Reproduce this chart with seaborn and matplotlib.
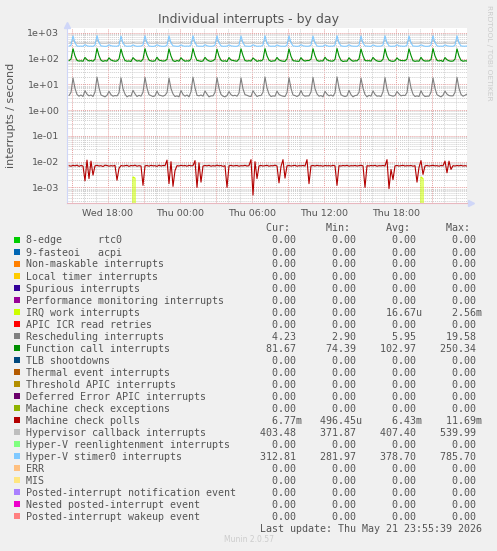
import numpy as np
import pandas as pd
import matplotlib
matplotlib.use("Agg")
import matplotlib.pyplot as plt
import matplotlib.dates as mdates
from matplotlib.patches import Rectangle
from matplotlib.ticker import LogLocator, FuncFormatter
import seaborn as sns

# 10 minute samples, first one at Wed 14:45
start = "2026-05-20 14:45"

stimer0 = [
    308, 335, 770, 410, 312, 306, 310, 304, 352, 318, 305, 309,
    303, 340, 785, 420, 315, 308, 302, 307, 348, 320, 310, 306,
    305, 330, 760, 400, 318, 304, 309, 306, 345, 316, 303, 308,
    310, 338, 775, 415, 312, 305, 302, 310, 350, 321, 307, 304,
    306, 333, 768, 405, 316, 309, 303, 306, 347, 314, 305, 311,
    304, 342, 780, 418, 313, 306, 308, 302, 351, 319, 306, 305,
    309, 336, 772, 409, 317, 303, 306, 309, 346, 315, 308, 303,
    305, 331, 765, 412, 311, 307, 304, 306, 349, 322, 304, 309,
    307, 339, 778, 403, 315, 305, 310, 303, 344, 317, 306, 307,
    303, 334, 770, 416, 314, 308, 302, 308, 353, 318, 309, 305,
    308, 337, 762, 407, 312, 304, 307, 305, 347, 320, 303, 310,
    306, 341, 783, 411, 318, 306, 303, 309, 350, 316, 307, 304,
    304, 332, 769, 404, 313, 309, 305, 302, 345, 319, 305, 308,
    309, 338, 776, 414, 316, 303, 308, 307, 352, 315, 310, 306,
    305, 335, 767, 408, 311, 307, 304, 310, 348, 321, 304, 303,
    307, 340, 780, 413, 317, 305, 309, 304, 346, 318, 308, 307,
    304, 336, 771, 410, 314, 308, 306, 312.81,
]

hv_callback = [
    405, 420, 525, 432, 407, 402, 406, 401, 426, 409, 403, 406,
    402, 418, 540, 428, 405, 404, 401, 407, 424, 408, 405, 403,
    406, 422, 518, 435, 403, 401, 405, 402, 428, 410, 402, 407,
    401, 419, 530, 430, 408, 405, 402, 406, 423, 407, 404, 402,
    404, 421, 522, 433, 406, 400, 407, 403, 427, 411, 401, 405,
    403, 417, 536, 429, 404, 406, 401, 405, 425, 408, 406, 403,
    407, 423, 520, 434, 402, 403, 405, 400, 429, 409, 403, 406,
    400, 418, 528, 431, 409, 401, 404, 407, 422, 410, 402, 404,
    405, 420, 533, 427, 405, 404, 400, 403, 426, 407, 405, 401,
    402, 424, 517, 436, 403, 402, 406, 405, 428, 411, 401, 407,
    406, 419, 531, 430, 407, 405, 402, 401, 424, 408, 404, 403,
    401, 421, 538, 432, 404, 400, 405, 406, 427, 409, 402, 405,
    404, 417, 523, 428, 408, 403, 401, 402, 425, 410, 406, 402,
    403, 422, 527, 435, 405, 406, 404, 405, 429, 407, 403, 406,
    407, 420, 534, 429, 402, 401, 406, 403, 423, 411, 400, 404,
    400, 418, 521, 433, 406, 404, 402, 407, 426, 408, 405, 403,
    405, 423, 529, 431, 404, 402, 406, 403.48,
]

func_call = [
    84, 97, 244, 128, 86, 81, 83, 80, 112, 91, 82, 85,
    80, 95, 250, 131, 87, 79, 84, 81, 108, 89, 83, 80,
    82, 99, 238, 125, 85, 80, 82, 78, 110, 92, 81, 84,
    79, 96, 246, 133, 88, 82, 80, 83, 114, 88, 84, 81,
    83, 94, 241, 127, 84, 78, 85, 80, 109, 90, 80, 83,
    81, 98, 248, 130, 86, 83, 79, 82, 113, 91, 82, 79,
    84, 95, 236, 126, 87, 80, 83, 78, 111, 89, 85, 82,
    80, 97, 243, 132, 85, 81, 84, 81, 107, 92, 79, 84,
    82, 93, 247, 129, 88, 79, 82, 83, 112, 90, 83, 80,
    79, 99, 240, 124, 84, 82, 80, 79, 110, 88, 81, 85,
    85, 96, 245, 131, 86, 80, 83, 82, 114, 91, 84, 81,
    81, 94, 250, 127, 87, 78, 81, 80, 109, 89, 80, 83,
    83, 98, 239, 130, 85, 83, 84, 81, 112, 92, 82, 79,
    80, 95, 244, 125, 88, 81, 79, 83, 108, 90, 85, 84,
    84, 97, 242, 133, 84, 79, 82, 80, 113, 88, 81, 82,
    82, 93, 248, 128, 86, 82, 85, 78, 111, 91, 83, 80,
    81, 96, 241, 126, 87, 80, 83, 81.67,
]

resched = [
    3.7, 4.9, 17.8, 7.0, 4.1, 3.5, 3.9, 3.4, 5.7, 4.2, 3.6, 3.9,
    3.4, 5.1, 19.2, 7.4, 3.9, 3.6, 3.3, 3.8, 5.4, 4.0, 3.5, 3.7,
    3.6, 4.7, 18.1, 6.8, 4.2, 3.3, 3.7, 3.5, 5.9, 4.3, 3.4, 3.8,
    3.5, 5.0, 18.9, 7.2, 4.0, 3.7, 3.4, 3.6, 5.5, 3.9, 3.7, 3.5,
    3.8, 4.8, 17.5, 6.9, 4.3, 3.4, 3.6, 3.3, 5.8, 4.1, 3.5, 3.9,
    3.3, 5.2, 19.0, 7.5, 3.8, 3.6, 3.9, 3.5, 5.6, 4.2, 3.3, 3.6,
    3.6, 4.9, 18.4, 7.1, 4.1, 3.5, 3.3, 3.7, 5.3, 4.0, 3.6, 3.8,
    3.5, 4.6, 17.9, 6.7, 4.0, 3.8, 3.5, 3.4, 5.7, 4.3, 3.4, 3.7,
    3.7, 5.0, 19.4, 7.3, 4.2, 3.4, 3.6, 3.5, 5.5, 4.1, 3.7, 3.5,
    3.4, 4.8, 18.2, 7.0, 3.9, 3.7, 3.4, 3.8, 5.8, 3.9, 3.5, 3.6,
    3.6, 5.1, 18.7, 6.9, 4.3, 3.5, 3.7, 3.3, 5.4, 4.2, 3.6, 3.9,
    3.5, 4.7, 19.6, 7.4, 4.0, 3.6, 3.4, 3.6, 5.9, 4.0, 3.3, 3.7,
    3.8, 4.9, 17.6, 7.2, 4.1, 3.3, 3.8, 3.5, 5.6, 4.1, 3.5, 3.6,
    3.4, 5.2, 18.5, 6.8, 3.9, 3.7, 3.5, 3.7, 5.3, 4.3, 3.6, 3.8,
    3.7, 4.8, 19.1, 7.3, 4.2, 3.4, 3.6, 3.4, 5.7, 4.0, 3.4, 3.5,
    3.5, 5.0, 18.0, 7.0, 4.0, 3.6, 3.3, 3.8, 5.5, 4.2, 3.7, 3.6,
    3.6, 4.9, 18.8, 7.1, 4.1, 3.5, 3.8, 4.23,
]

# machine check polls, in milli-interrupts per second
mce_polls_milli = [
    7.0, 6.7, 7.2, 6.9, 7.3, 6.6, 7.1, 6.8, 1.8, 11.5, 2.2, 10.5,
    3.0, 6.9, 7.2, 6.8, 7.0, 6.5, 7.3, 7.1, 6.7, 7.0, 6.8, 7.2,
    1.9, 5.5, 7.1, 6.8, 7.0, 7.2, 6.6, 7.1, 6.9, 7.3, 6.7, 7.0,
    6.8, 1.2, 6.9, 7.1, 6.7, 7.2, 6.9, 7.0, 6.6, 7.3, 6.8, 7.1,
    7.0, 11.5, 1.4, 10.0, 1.1, 4.5, 7.0, 6.8, 7.2, 6.9, 7.1, 6.7,
    7.2, 6.9, 7.0, 11.0, 1.0, 9.0, 1.6, 6.8, 7.1, 6.9, 7.2, 6.7,
    7.0, 6.8, 7.3, 6.9, 7.1, 6.6, 7.0, 1.0, 6.9, 7.2, 6.8, 7.0,
    7.1, 6.7, 7.0, 6.9, 7.2, 6.8, 7.0, 12.0, 0.5, 10.0, 2.2, 6.9,
    7.1, 6.8, 7.0, 7.2, 6.7, 7.0, 6.9, 7.3, 6.8, 1.5, 6.5, 12.0,
    2.3, 6.9, 7.1, 6.8, 7.0, 7.2, 6.7, 7.0, 6.9, 7.1, 6.8, 12.0,
    1.4, 6.9, 7.1, 6.8, 7.2, 6.9, 7.0, 6.7, 7.1, 6.9, 7.0, 6.8,
    7.2, 6.9, 1.2, 7.0, 6.8, 7.1, 6.9, 7.2, 6.7, 7.0, 6.9, 7.1,
    6.8, 7.0, 7.2, 6.9, 1.0, 7.0, 6.8, 7.1, 6.9, 7.2, 6.7, 7.0,
    6.9, 7.1, 6.8, 12.0, 0.9, 5.0, 2.0, 6.9, 7.1, 6.8, 7.0, 7.2,
    6.8, 7.0, 6.9, 7.1, 6.7, 7.0, 1.6, 6.0, 11.0, 3.2, 6.9, 7.1,
    6.8, 7.0, 7.2, 6.9, 7.0, 6.7, 7.1, 6.9, 10.5, 3.7, 10.5, 5.0,
    7.0, 6.8, 7.1, 6.9, 7.2, 6.8, 7.0, 6.77,
]

# IRQ work is zero except for two short bursts
irq_work_at = [32, 33, 176, 177]
irq_work_val = [2.56e-3, 2.3e-3, 2.56e-3, 2.2e-3]

labels = [
    "8-edge      rtc0", "9-fasteoi   acpi", "Non-maskable interrupts",
    "Local timer interrupts", "Spurious interrupts",
    "Performance monitoring interrupts", "IRQ work interrupts",
    "APIC ICR read retries", "Rescheduling interrupts",
    "Function call interrupts", "TLB shootdowns", "Thermal event interrupts",
    "Threshold APIC interrupts", "Deferred Error APIC interrupts",
    "Machine check exceptions", "Machine check polls",
    "Hypervisor callback interrupts", "Hyper-V reenlightenment interrupts",
    "Hyper-V stimer0 interrupts", "ERR", "MIS",
    "Posted-interrupt notification event", "Nested posted-interrupt event",
    "Posted-interrupt wakeup event",
]
colours = [
    "#00CC00", "#0066B3", "#FF8000", "#FFCC00", "#330099", "#990099",
    "#CCFF00", "#FF0000", "#808080", "#008F00", "#00487D", "#B35A00",
    "#B38F00", "#6B006B", "#8FB300", "#B30000", "#BEBEBE", "#80FF80",
    "#80C9FF", "#FFC080", "#FFE680", "#AA80FF", "#EE00CC", "#FF8080",
]
z = "0.00"
cur = [z, z, z, z, z, z, z, z, "4.23", "81.67", z, z, z, z, z, "6.77m",
       "403.48", z, "312.81", z, z, z, z, z]
mins = [z, z, z, z, z, z, z, z, "2.90", "74.39", z, z, z, z, z, "496.45u",
        "371.87", z, "281.97", z, z, z, z, z]
avgs = [z, z, z, z, z, z, "16.67u", z, "5.95", "102.97", z, z, z, z, z, "6.43m",
        "407.40", z, "378.70", z, z, z, z, z]
maxs = [z, z, z, z, z, z, "2.56m", z, "19.58", "250.34", z, z, z, z, z, "11.69m",
        "539.99", z, "785.70", z, z, z, z, z]

W, H = 497, 551
TXT = "#555555"


def fx(px):
    return px / W


def fy(py):
    return 1 - py / H


sns.set_style("white")
plt.rcParams["font.family"] = ["DejaVu Sans"]

fig = plt.figure(figsize=(W / 100, H / 100), dpi=100, facecolor="#F0F0F0")
ax = fig.add_axes([fx(67), fy(203), 400 / W, 175 / H])
ax.set_facecolor("white")

times = pd.date_range(start, periods=len(stimer0), freq="10min")
irq_work = np.zeros(len(times))
irq_work[irq_work_at] = irq_work_val
mce_polls = np.array(mce_polls_milli) / 1000.0

# same drawing order as munin (legend order)
series = [
    (irq_work, colours[6]),
    (resched, colours[8]),
    (func_call, colours[9]),
    (mce_polls, colours[15]),
    (hv_callback, colours[16]),
    (stimer0, colours[18]),
]
for vals, col in series:
    sns.lineplot(x=times, y=vals, color=col, lw=0.8, estimator=None, ax=ax)

ax.set_yscale("log", nonpositive="clip")
ax.set_ylim(2.48e-4, 1560)
ax.set_xlim(pd.Timestamp("2026-05-20 14:35"), pd.Timestamp("2026-05-21 23:55"))
ax.set_xlabel("")
ax.set_ylabel("")

# grid: red dotted majors, grey dotted minors
ax.xaxis.set_major_locator(mdates.HourLocator(byhour=range(0, 24, 3)))
ax.xaxis.set_minor_locator(mdates.HourLocator())


def xfmt(v, pos):
    d = mdates.num2date(v)
    return d.strftime("%a %H:%M") if d.hour % 6 == 0 else ""


ax.xaxis.set_major_formatter(FuncFormatter(xfmt))
ax.yaxis.set_major_locator(LogLocator(base=10, numticks=20))
ax.yaxis.set_minor_locator(LogLocator(base=10, subs=np.arange(2, 10), numticks=20))
ax.yaxis.set_major_formatter(FuncFormatter(lambda v, p: f"{v:.0e}"))
ax.set_axisbelow(True)
ax.grid(which="major", color="#e6a0a0", linestyle=(0, (1, 1)), lw=0.7)
ax.grid(which="minor", color="#cfcfcf", linestyle=(0, (1, 1)), lw=0.7)

ax.tick_params(axis="x", which="major", length=2, color="#e6a0a0", pad=2,
               labelsize=6.8, labelcolor=TXT)
ax.tick_params(axis="x", which="minor", length=0)
ax.tick_params(axis="y", which="both", length=0, pad=5.5, labelsize=6.8,
               labelcolor=TXT)

for s in ["top", "right"]:
    ax.spines[s].set_visible(False)
ax.spines["left"].set_color("#CFD6F8")
ax.spines["bottom"].set_color("#e8b8c0")
ax.spines["left"].set_linewidth(0.8)
ax.spines["bottom"].set_linewidth(0.8)
ax.plot([0], [1.02], marker="^", ms=4, color="#CFD6F8", transform=ax.transAxes,
        clip_on=False)
ax.plot([1.01], [0], marker=">", ms=4, color="#CFD6F8", transform=ax.transAxes,
        clip_on=False)

fig.text(fx(248.5), fy(19), "Individual interrupts - by day", ha="center",
         va="center", fontsize=9, color=TXT)
fig.text(fx(11), fy(115.5), "interrupts / second", rotation=90, ha="center",
         va="center", fontsize=8, color=TXT)
fig.text(fx(489), fy(53), "RRDTOOL / TOBI OETIKER", rotation=270, ha="center",
         va="center", fontsize=5.4, color="#cccccc")
fig.text(fx(248.5), fy(540), "Munin 2.0.57", ha="center", va="center",
         fontsize=5.5, color="#cccccc")

# legend block, monospace columns (6 px per character)
mono = dict(family="DejaVu Sans Mono", fontsize=7.175, color=TXT, ha="left",
            va="baseline")


def cell(v):
    return v if v[-1].isalpha() else v + " "


header = "Cur:" + " " * 6 + "Min:" + " " * 6 + "Avg:" + " " * 6 + "Max:"
fig.text(fx(26 + 40 * 6), fy(231.3), header, **mono)
for k, lab in enumerate(labels):
    yc = 240 + 12 * k
    row = f"{lab:<36}{cell(cur[k]):>10}{cell(mins[k]):>10}{cell(avgs[k]):>10}{cell(maxs[k]):>10}"
    fig.text(fx(26), fy(yc + 3.5), row, **mono)
    fig.add_artist(Rectangle((fx(14), fy(yc + 3)), 6 / W, 6 / H,
                             transform=fig.transFigure, facecolor=colours[k],
                             edgecolor="none"))
fig.text(fx(26 + 39 * 6), fy(240 + 12 * 24 + 3.5),
         "Last update: Thu May 21 23:55:39 2026", **mono)

fig.savefig("out.png", dpi=100, facecolor=fig.get_facecolor())
plt.close(fig)
